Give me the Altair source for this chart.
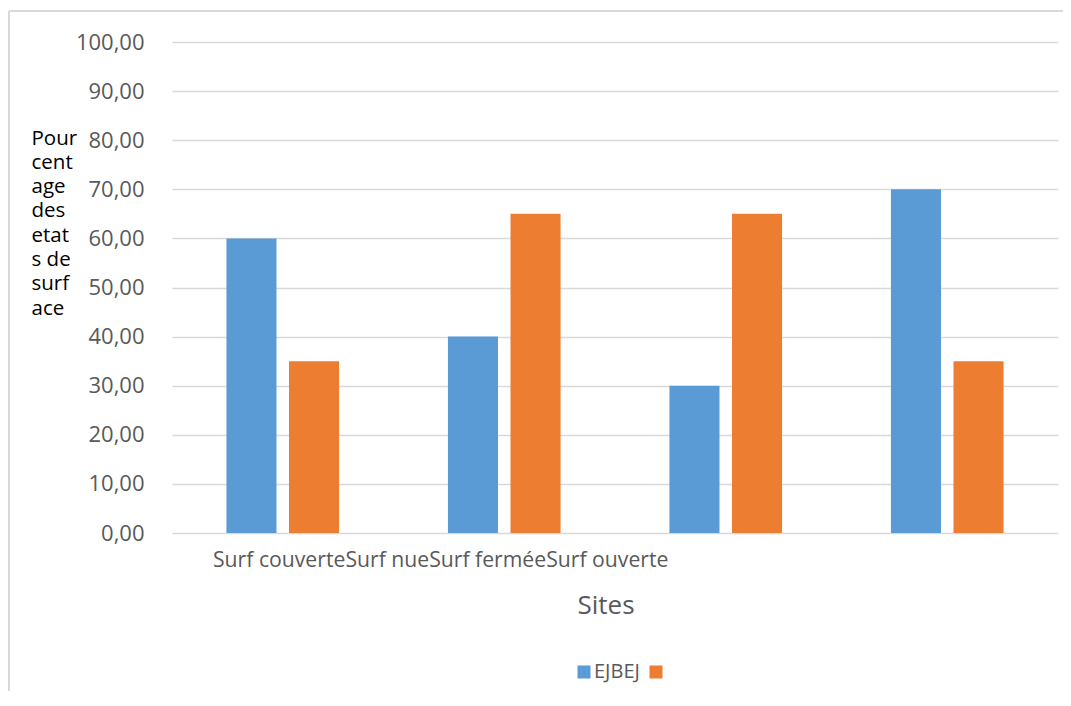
import altair as alt
import pandas as pd

categories = ["Surf couverte", "Surf nue", "Surf fermée", "Surf ouverte"]
series = ["EJBEJ", " "]
values_blue = [60, 40, 30, 70]
values_orange = [35, 65, 65, 35]
colors = ["#5B9BD5", "#ED7D31"]
y_ticks = [0, 10, 20, 30, 40, 50, 60, 70, 80, 90, 100]
y_title_lines = ["Pour", "cent", "age", "des", "etat", "s de", "surf", "ace"]
x_title = "Sites"

rows = []
for c, b, o in zip(categories, values_blue, values_orange):
    rows.append({"cat": c, "series": series[0], "value": b})
    rows.append({"cat": c, "series": series[1], "value": o})
df = pd.DataFrame(rows)

FONT = "Open Sans"
GRAY = "#595959"

bars = alt.Chart(df).mark_bar().encode(
    x=alt.X(
        "cat:N",
        sort=categories,
        scale=alt.Scale(paddingInner=0.4916, paddingOuter=0.2458),
        axis=alt.Axis(
            labels=False, ticks=False, domain=False, grid=False,
            title=x_title, titleFont=FONT, titleFontSize=26, titleFontWeight="normal",
            titleColor=GRAY, titleX=433.5, titleY=72, titleAlign="center",
            titleBaseline="middle",
        ),
    ),
    xOffset=alt.XOffset(
        "series:N", sort=series, scale=alt.Scale(paddingInner=0.2, paddingOuter=0)
    ),
    y=alt.Y(
        "value:Q",
        scale=alt.Scale(domain=[0, 100], nice=False),
        axis=alt.Axis(
            values=y_ticks,
            labelExpr="replace(format(datum.value, '.2f'), '.', ',')",
            ticks=False, domain=False, labelPadding=28,
            labelFont=FONT, labelFontSize=22, labelColor=GRAY,
            gridColor="#d9d9d9", gridWidth=1.5,
            title=y_title_lines, titleAngle=0, titleAlign="left",
            titleBaseline="alphabetic", titleX=-141, titleY=102,
            titleLineHeight=24.3, titleFont=FONT, titleFontSize=20.5,
            titleFontWeight="normal", titleColor="black",
        ),
    ),
    color=alt.Color(
        "series:N",
        sort=series,
        scale=alt.Scale(domain=series, range=colors),
        legend=alt.Legend(
            title=None, orient="none", legendX=402, legendY=620,
            direction="horizontal", symbolType="square", symbolSize=169,
            symbolStrokeWidth=0, labelFont=FONT, labelFontSize=20,
            labelColor=GRAY, labelOffset=0, columnPadding=6, padding=0,
        ),
    ),
)

xlabel = alt.Chart(pd.DataFrame({"t": ["".join(categories)]})).mark_text(
    align="left", baseline="middle", font=FONT, fontSize=21.2, color=GRAY
).encode(text="t:N", x=alt.value(41), y=alt.value(519))

one = pd.DataFrame({"a": [0]})
frame_top = alt.Chart(one).mark_rule(color="#d9d9d9", strokeWidth=2).encode(
    x=alt.value(-163), x2=alt.value(1000), y=alt.value(-31)
)
frame_left = alt.Chart(one).mark_rule(color="#d9d9d9", strokeWidth=2).encode(
    x=alt.value(-163), y=alt.value(-31), y2=alt.value(700)
)

chart = alt.layer(frame_top, frame_left, bars, xlabel).properties(
    width=886,
    height=491,
    padding={"left": 164, "top": 34, "right": 5, "bottom": 158},
    autosize=alt.AutoSizeParams(type="none"),
    background="white",
).configure_view(stroke=None)

chart.save("out.html", embed_options={"renderer": "svg", "actions": False})
